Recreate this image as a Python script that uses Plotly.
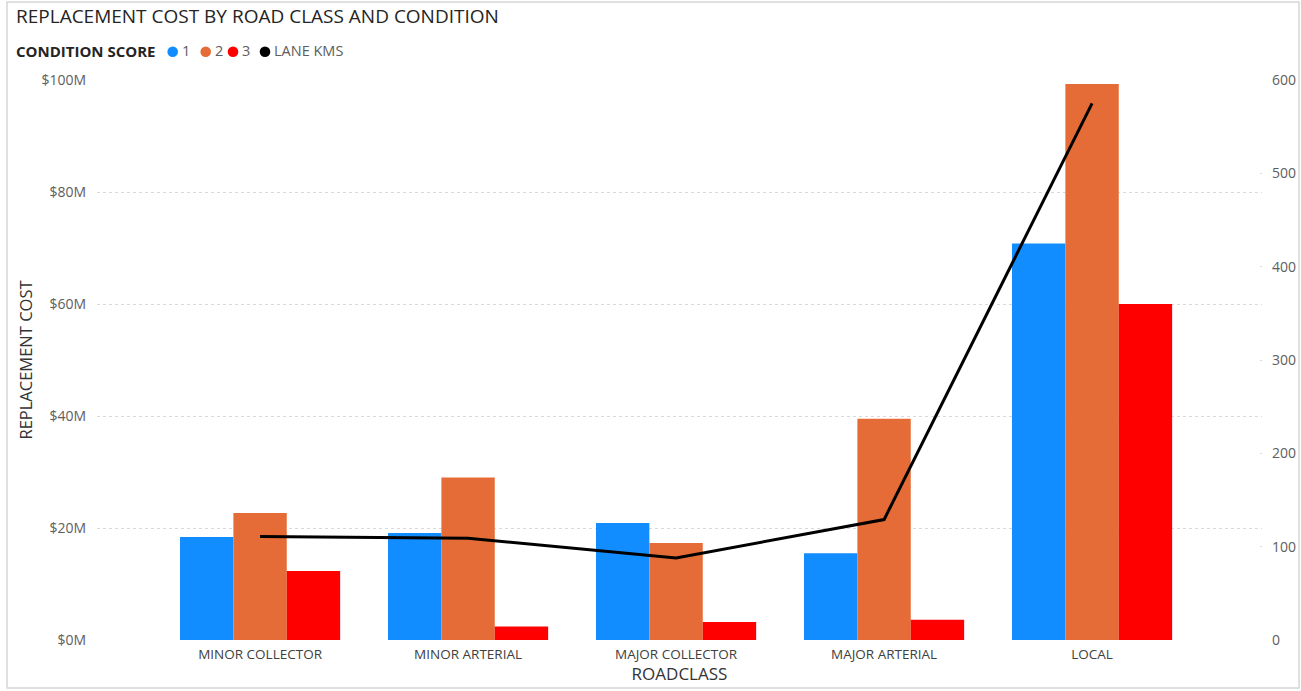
import plotly.graph_objects as go

# Road classes on the category axis
road_classes = ["MINOR COLLECTOR", "MINOR ARTERIAL", "MAJOR COLLECTOR", "MAJOR ARTERIAL", "LOCAL"]

# Replacement cost ($M) by condition score
cost_score_1 = [18.4, 19.1, 20.9, 15.5, 70.8]
cost_score_2 = [22.7, 29.0, 17.3, 39.5, 99.3]
cost_score_3 = [12.3, 2.4, 3.2, 3.6, 60.0]

# Lane kilometres per road class (secondary axis)
lane_kms = [111, 109, 88, 129, 575]

# Axis ticks
cost_ticks = [0, 20, 40, 60, 80, 100]
cost_tick_text = ["$0M", "$20M", "$40M", "$60M", "$80M", "$100M"]
kms_ticks = [0, 100, 200, 300, 400, 500, 600]

score_labels = ["1", "2", "3"]
score_colors = ["#118DFF", "#E66C37", "#FF0000"]

W, H = 1301, 691
ML, MR, MT, MB = 97, 39, 80, 51
PW, PH = W - ML - MR, H - MT - MB


def px_x(x):
    return (x - ML) / PW


def px_y(y):
    return (H - MB - y) / PH


fig = go.Figure()
for label, vals, col in zip(score_labels, [cost_score_1, cost_score_2, cost_score_3], score_colors):
    fig.add_trace(go.Bar(
        x=road_classes, y=vals, name=label, marker_color=col,
        marker_line_width=0, showlegend=False,
    ))

fig.add_trace(go.Scatter(
    x=road_classes, y=lane_kms, name="LANE KMS", mode="lines",
    line=dict(color="#000000", width=3), yaxis="y2", showlegend=False,
))

grid = "#D9D9D9"
fig.update_layout(
    width=W, height=H,
    margin=dict(l=ML, r=MR, t=MT, b=MB, autoexpand=False),
    paper_bgcolor="white", plot_bgcolor="white",
    barmode="group", bargap=0.23, bargroupgap=0,
    font=dict(family="Open Sans, sans-serif", color="#605E5C"),
    xaxis=dict(
        range=[-0.784, 4.817], showgrid=False, zeroline=False, showline=False,
        tickfont=dict(size=13.5, color="#404040"), ticklabelstandoff=4,
        title=dict(text="ROADCLASS", font=dict(size=17, color="#333333"), standoff=5),
    ),
    yaxis=dict(
        range=[0, 100], tickvals=cost_ticks, ticktext=cost_tick_text,
        showgrid=True, gridcolor=grid, griddash="dot", gridwidth=1,
        zeroline=False, showline=False,
        tickfont=dict(size=14, color="#605E5C"), ticklabelstandoff=10,
        title=dict(text="REPLACEMENT COST", font=dict(size=16.5, color="#333333"), standoff=4),
    ),
    yaxis2=dict(
        range=[0, 600], tickvals=kms_ticks,
        overlaying="y", side="right", showgrid=False, zeroline=False, showline=False,
        ticks="inside", ticklen=2, tickcolor=grid,
        tickfont=dict(size=14, color="#605E5C"), ticklabelstandoff=9,
    ),
    showlegend=False,
)

# Title and legend
ann = [
    dict(x=px_x(14), y=px_y(16), text="REPLACEMENT COST BY ROAD CLASS AND CONDITION",
         font=dict(size=19, color="#252423")),
    dict(x=px_x(14), y=px_y(51), text="<b>CONDITION SCORE</b>",
         font=dict(size=15, color="#252423")),
]
shapes = []
legend_items = [
    (172.7, "1", score_colors[0]),
    (205.7, "2", score_colors[1]),
    (233.0, "3", score_colors[2]),
    (265.0, "LANE KMS", "#000000"),
]
for cx, txt, col in legend_items:
    r = 5.3
    shapes.append(dict(type="circle", xref="paper", yref="paper",
                       x0=px_x(cx - r), x1=px_x(cx + r), y0=px_y(51.7 + r), y1=px_y(51.7 - r),
                       fillcolor=col, line=dict(width=0)))
    ann.append(dict(x=px_x(cx + r + 1.5), y=px_y(51), text=txt,
                    font=dict(size=14.5, color="#605E5C")))
for a in ann:
    a.update(xref="paper", yref="paper", xanchor="left", yanchor="middle", showarrow=False)

# Light frame around the visual
shapes.append(dict(type="rect", xref="paper", yref="paper",
                   x0=px_x(7), x1=px_x(1299), y0=px_y(688), y1=px_y(2),
                   line=dict(color="#D6D6D6", width=1.5), fillcolor="rgba(0,0,0,0)", layer="below"))
fig.update_layout(annotations=ann, shapes=shapes)

fig.write_html("out.html")
